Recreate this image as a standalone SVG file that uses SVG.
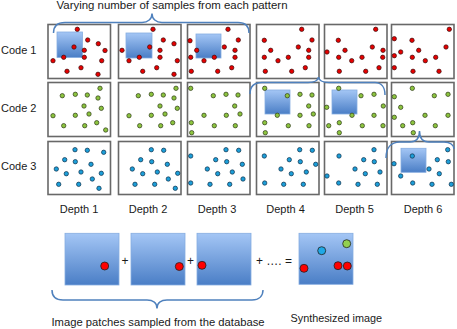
<svg xmlns="http://www.w3.org/2000/svg" width="457" height="329" viewBox="0 0 457 329">
<defs>
<linearGradient id="bg" x1="0" y1="0" x2="0" y2="1">
<stop offset="0" stop-color="#a4c6f5"/>
<stop offset="1" stop-color="#4a7ec6"/>
</linearGradient>
<style>
text{font-family:"Liberation Sans",Arial,sans-serif;fill:#1a1a1a}
.lbl{font-size:11px}
.cell{fill:#fff;stroke:#686868;stroke-width:1.6}
.sq{fill:url(#bg);stroke:#86ade0;stroke-width:0.8}
.r{fill:#e60000;stroke:#3a1010;stroke-width:0.7}
.g{fill:#8cc43f;stroke:#2f3a1a;stroke-width:0.7}
.b{fill:#1c9ed8;stroke:#10304a;stroke-width:0.7}
.R{fill:#ff0000;stroke:#222;stroke-width:0.8}
.G{fill:#92d050;stroke:#222;stroke-width:0.8}
.B{fill:#1fa8e6;stroke:#222;stroke-width:0.8}
.brace{fill:none;stroke:#4f81bd;stroke-width:1.5}
.op{font-size:12px}
</style>
</defs>

<text class="lbl" x="56.5" y="9" textLength="231" lengthAdjust="spacingAndGlyphs">Varying number of samples from each pattern</text>
<text class="lbl" x="1" y="54">Code 1</text>
<text class="lbl" x="1" y="111.5">Code 2</text>
<text class="lbl" x="1" y="170">Code 3</text>

<g id="r1c1">
<rect class="cell" x="48" y="24.5" width="62.5" height="54"/>
<rect class="sq" x="57" y="32" width="25.5" height="25.5"/>
<g class="r"><circle cx="77.3" cy="29.3" r="2.2"/><circle cx="87.7" cy="40" r="2.2"/><circle cx="98.3" cy="43.7" r="2.2"/><circle cx="105" cy="50.5" r="2.2"/><circle cx="84.3" cy="50.3" r="2.2"/><circle cx="74" cy="47" r="2.2"/><circle cx="84.3" cy="57.3" r="2.2"/><circle cx="63.7" cy="57.3" r="2.2"/><circle cx="53" cy="60.7" r="2.2"/><circle cx="101.7" cy="60.7" r="2.2"/><circle cx="81" cy="67.7" r="2.2"/><circle cx="67" cy="71.3" r="2.2"/><circle cx="98" cy="74.3" r="2.2"/></g>
</g>
<g id="r1c2">
<rect class="cell" x="118.5" y="24.5" width="62.5" height="54"/>
<rect class="sq" x="126" y="33" width="26" height="25"/>
<g class="r"><circle cx="153" cy="29.3" r="2.2"/><circle cx="163.3" cy="40" r="2.2"/><circle cx="174" cy="43.7" r="2.2"/><circle cx="122" cy="50.3" r="2.2"/><circle cx="160" cy="50.3" r="2.2"/><circle cx="149.7" cy="47" r="2.2"/><circle cx="160" cy="57.3" r="2.2"/><circle cx="139.3" cy="57.3" r="2.2"/><circle cx="129" cy="60.7" r="2.2"/><circle cx="177.3" cy="60.7" r="2.2"/><circle cx="156.7" cy="67.7" r="2.2"/><circle cx="142.7" cy="71.3" r="2.2"/><circle cx="174" cy="74.3" r="2.2"/></g>
</g>
<g id="r1c3">
<rect class="cell" x="187.5" y="24.5" width="62.5" height="54"/>
<rect class="sq" x="196" y="34" width="25" height="24"/>
<g class="r"><circle cx="228" cy="29.3" r="2.2"/><circle cx="238.3" cy="40" r="2.2"/><circle cx="190" cy="40.7" r="2.2"/><circle cx="224.3" cy="47" r="2.2"/><circle cx="196.7" cy="50.3" r="2.2"/><circle cx="235" cy="50.3" r="2.2"/><circle cx="190.7" cy="57.3" r="2.2"/><circle cx="214.3" cy="57.3" r="2.2"/><circle cx="235" cy="57.3" r="2.2"/><circle cx="204" cy="60.7" r="2.2"/><circle cx="231.7" cy="67.7" r="2.2"/><circle cx="217.7" cy="71.3" r="2.2"/><circle cx="191.3" cy="71.3" r="2.2"/></g>
</g>
<g id="r1c4">
<rect class="cell" x="256.5" y="24.5" width="62.5" height="54"/>
<g class="r"><circle cx="301.7" cy="29.3" r="2.2"/><circle cx="264.3" cy="40.3" r="2.2"/><circle cx="312" cy="40" r="2.2"/><circle cx="270.7" cy="50.3" r="2.2"/><circle cx="298.3" cy="47" r="2.2"/><circle cx="308.7" cy="50.3" r="2.2"/><circle cx="264.3" cy="57.3" r="2.2"/><circle cx="288.3" cy="57.3" r="2.2"/><circle cx="308.7" cy="57.3" r="2.2"/><circle cx="278" cy="60.7" r="2.2"/><circle cx="305.3" cy="67.7" r="2.2"/><circle cx="291.7" cy="71.3" r="2.2"/><circle cx="265.3" cy="71.3" r="2.2"/></g>
</g>
<g id="r1c5">
<rect class="cell" x="324.5" y="24.5" width="62.5" height="54"/>
<g class="r"><circle cx="375.7" cy="29.3" r="2.2"/><circle cx="338.3" cy="40.3" r="2.2"/><circle cx="327" cy="52" r="2.2"/><circle cx="345" cy="50.3" r="2.2"/><circle cx="372.3" cy="47" r="2.2"/><circle cx="383" cy="50.3" r="2.2"/><circle cx="338.7" cy="57.3" r="2.2"/><circle cx="362" cy="57.3" r="2.2"/><circle cx="382.7" cy="57.3" r="2.2"/><circle cx="351.7" cy="60.7" r="2.2"/><circle cx="379" cy="67.7" r="2.2"/><circle cx="365.7" cy="71.3" r="2.2"/><circle cx="339.3" cy="71.3" r="2.2"/></g>
</g>
<g id="r1c6">
<rect class="cell" x="391.5" y="24.5" width="62.5" height="54"/>
<g class="r"><circle cx="449.3" cy="29.3" r="2.2"/><circle cx="394.3" cy="38.7" r="2.2"/><circle cx="412" cy="40.3" r="2.2"/><circle cx="400.7" cy="52" r="2.2"/><circle cx="418.7" cy="50.3" r="2.2"/><circle cx="446" cy="47" r="2.2"/><circle cx="394.3" cy="55.7" r="2.2"/><circle cx="412.3" cy="57.3" r="2.2"/><circle cx="425.3" cy="60.7" r="2.2"/><circle cx="435.7" cy="57.3" r="2.2"/><circle cx="394.3" cy="67.7" r="2.2"/><circle cx="413" cy="71.3" r="2.2"/><circle cx="439" cy="71.3" r="2.2"/></g>
</g>

<g id="r2c1">
<rect class="cell" x="48" y="82.5" width="62.5" height="54"/>
<g class="g"><circle cx="100" cy="88.3" r="2.2"/><circle cx="62.3" cy="95.7" r="2.2"/><circle cx="75.3" cy="94.3" r="2.2"/><circle cx="87.3" cy="95" r="2.2"/><circle cx="98" cy="98" r="2.2"/><circle cx="84" cy="106" r="2.2"/><circle cx="101.3" cy="108.3" r="2.2"/><circle cx="53" cy="115.7" r="2.2"/><circle cx="75.3" cy="115.3" r="2.2"/><circle cx="89" cy="114" r="2.2"/><circle cx="63.7" cy="125.7" r="2.2"/><circle cx="84.7" cy="125.7" r="2.2"/><circle cx="96.7" cy="122.7" r="2.2"/><circle cx="105.7" cy="130" r="2.2"/></g>
</g>
<g id="r2c2">
<rect class="cell" x="118.5" y="82.5" width="62.5" height="54"/>
<g class="g"><circle cx="176" cy="88.3" r="2.2"/><circle cx="138.3" cy="95.7" r="2.2"/><circle cx="151.3" cy="94.3" r="2.2"/><circle cx="163.3" cy="95" r="2.2"/><circle cx="174" cy="98" r="2.2"/><circle cx="160" cy="106" r="2.2"/><circle cx="177.3" cy="108.3" r="2.2"/><circle cx="129" cy="115.7" r="2.2"/><circle cx="151.3" cy="115.3" r="2.2"/><circle cx="165" cy="114" r="2.2"/><circle cx="139.7" cy="125.7" r="2.2"/><circle cx="160.7" cy="125.7" r="2.2"/><circle cx="172.7" cy="122.7" r="2.2"/></g>
</g>
<g id="r2c3">
<rect class="cell" x="187.5" y="82.5" width="62.5" height="54"/>
<g class="g"><circle cx="190.7" cy="88.3" r="2.2"/><circle cx="213.3" cy="95.7" r="2.2"/><circle cx="226" cy="94.3" r="2.2"/><circle cx="238" cy="95" r="2.2"/><circle cx="234.7" cy="106" r="2.2"/><circle cx="240" cy="114" r="2.2"/><circle cx="204" cy="115.3" r="2.2"/><circle cx="226.3" cy="115.3" r="2.2"/><circle cx="191.3" cy="122.7" r="2.2"/><circle cx="214.3" cy="125.7" r="2.2"/><circle cx="235.3" cy="125.7" r="2.2"/><circle cx="191.7" cy="132.7" r="2.2"/></g>
</g>
<g id="r2c4">
<rect class="cell" x="256.5" y="82.5" width="62.5" height="54"/>
<rect class="sq" x="265" y="90" width="25" height="24"/>
<g class="g"><circle cx="264.7" cy="88.3" r="2.2"/><circle cx="287.3" cy="95.7" r="2.2"/><circle cx="300" cy="94.3" r="2.2"/><circle cx="312" cy="95" r="2.2"/><circle cx="308.7" cy="106" r="2.2"/><circle cx="313.3" cy="114" r="2.2"/><circle cx="277.3" cy="115.3" r="2.2"/><circle cx="300" cy="115.3" r="2.2"/><circle cx="264.7" cy="122.7" r="2.2"/><circle cx="288.3" cy="125.7" r="2.2"/><circle cx="309" cy="125.7" r="2.2"/><circle cx="265.3" cy="132.7" r="2.2"/></g>
</g>
<g id="r2c5">
<rect class="cell" x="324.5" y="82.5" width="62.5" height="54"/>
<rect class="sq" x="332" y="90" width="25" height="24"/>
<g class="g"><circle cx="338.7" cy="88.3" r="2.2"/><circle cx="361" cy="95.7" r="2.2"/><circle cx="374" cy="94.3" r="2.2"/><circle cx="383.3" cy="106" r="2.2"/><circle cx="326.7" cy="107.3" r="2.2"/><circle cx="352" cy="115.3" r="2.2"/><circle cx="374" cy="115.3" r="2.2"/><circle cx="328.7" cy="125.7" r="2.2"/><circle cx="339.3" cy="122.7" r="2.2"/><circle cx="339.3" cy="132.7" r="2.2"/><circle cx="362.3" cy="125.7" r="2.2"/><circle cx="383" cy="125.7" r="2.2"/></g>
</g>
<g id="r2c6">
<rect class="cell" x="391.5" y="82.5" width="62.5" height="54"/>
<g class="g"><circle cx="412.3" cy="88.3" r="2.2"/><circle cx="434.3" cy="95.7" r="2.2"/><circle cx="448" cy="94.3" r="2.2"/><circle cx="394.3" cy="96.7" r="2.2"/><circle cx="400.7" cy="107.3" r="2.2"/><circle cx="425" cy="115.3" r="2.2"/><circle cx="448" cy="115.3" r="2.2"/><circle cx="394.3" cy="117.3" r="2.2"/><circle cx="402.7" cy="125.7" r="2.2"/><circle cx="412.7" cy="122.7" r="2.2"/><circle cx="435.3" cy="125.7" r="2.2"/><circle cx="413.3" cy="132.7" r="2.2"/></g>
</g>

<g id="r3c1">
<rect class="cell" x="48" y="141.5" width="62.5" height="53"/>
<g class="b"><circle cx="75" cy="149.7" r="2.2"/><circle cx="87.3" cy="150.3" r="2.2"/><circle cx="103.7" cy="152.3" r="2.2"/><circle cx="64.7" cy="159.7" r="2.2"/><circle cx="75.3" cy="161.7" r="2.2"/><circle cx="91" cy="164.3" r="2.2"/><circle cx="56.3" cy="169" r="2.2"/><circle cx="66.3" cy="173.7" r="2.2"/><circle cx="81" cy="172" r="2.2"/><circle cx="101.3" cy="173.3" r="2.2"/><circle cx="92.3" cy="179" r="2.2"/><circle cx="58.7" cy="184.3" r="2.2"/><circle cx="78.7" cy="184.3" r="2.2"/><circle cx="99" cy="188.3" r="2.2"/></g>
</g>
<g id="r3c2">
<rect class="cell" x="118.5" y="141.5" width="62.5" height="53"/>
<g class="b"><circle cx="151.3" cy="149.7" r="2.2"/><circle cx="163.7" cy="150.3" r="2.2"/><circle cx="140.7" cy="159.7" r="2.2"/><circle cx="151.7" cy="161.7" r="2.2"/><circle cx="167.3" cy="164.3" r="2.2"/><circle cx="132.3" cy="169" r="2.2"/><circle cx="142.7" cy="173.7" r="2.2"/><circle cx="157.3" cy="172" r="2.2"/><circle cx="177.7" cy="173.3" r="2.2"/><circle cx="168.3" cy="179" r="2.2"/><circle cx="135" cy="184.3" r="2.2"/><circle cx="154.7" cy="184.3" r="2.2"/><circle cx="175.3" cy="188.3" r="2.2"/></g>
</g>
<g id="r3c3">
<rect class="cell" x="187.5" y="141.5" width="62.5" height="53"/>
<g class="b"><circle cx="226" cy="149.7" r="2.2"/><circle cx="238.7" cy="150.3" r="2.2"/><circle cx="190.7" cy="156" r="2.2"/><circle cx="215.7" cy="159.7" r="2.2"/><circle cx="226.7" cy="161.7" r="2.2"/><circle cx="242.3" cy="164.3" r="2.2"/><circle cx="207.3" cy="169" r="2.2"/><circle cx="217.7" cy="173.7" r="2.2"/><circle cx="232.3" cy="172" r="2.2"/><circle cx="243" cy="179" r="2.2"/><circle cx="190.7" cy="183" r="2.2"/><circle cx="210" cy="184.3" r="2.2"/><circle cx="229.7" cy="184.3" r="2.2"/></g>
</g>
<g id="r3c4">
<rect class="cell" x="256.5" y="141.5" width="62.5" height="53"/>
<g class="b"><circle cx="299.7" cy="149.7" r="2.2"/><circle cx="312.3" cy="150.3" r="2.2"/><circle cx="264.3" cy="156" r="2.2"/><circle cx="289.3" cy="159.7" r="2.2"/><circle cx="300.3" cy="161.7" r="2.2"/><circle cx="315.7" cy="164.3" r="2.2"/><circle cx="281" cy="169" r="2.2"/><circle cx="291.3" cy="173.7" r="2.2"/><circle cx="306.3" cy="172" r="2.2"/><circle cx="264.7" cy="183" r="2.2"/><circle cx="283.7" cy="184.3" r="2.2"/><circle cx="303.3" cy="184.3" r="2.2"/></g>
</g>
<g id="r3c5">
<rect class="cell" x="324.5" y="141.5" width="62.5" height="53"/>
<g class="b"><circle cx="374" cy="149.7" r="2.2"/><circle cx="339" cy="156" r="2.2"/><circle cx="363.7" cy="159.7" r="2.2"/><circle cx="374.3" cy="161.7" r="2.2"/><circle cx="355" cy="169" r="2.2"/><circle cx="365.3" cy="173.7" r="2.2"/><circle cx="380" cy="172" r="2.2"/><circle cx="327" cy="176" r="2.2"/><circle cx="338.7" cy="183" r="2.2"/><circle cx="358" cy="184.3" r="2.2"/><circle cx="377.3" cy="184.3" r="2.2"/></g>
</g>
<g id="r3c6">
<rect class="cell" x="391.5" y="141.5" width="62.5" height="53"/>
<rect class="sq" x="401" y="148.3" width="25" height="24"/>
<g class="b"><circle cx="447.7" cy="149.7" r="2.2"/><circle cx="412.3" cy="156" r="2.2"/><circle cx="394" cy="163.7" r="2.2"/><circle cx="437.3" cy="159.7" r="2.2"/><circle cx="448.3" cy="161.7" r="2.2"/><circle cx="429" cy="169" r="2.2"/><circle cx="400.7" cy="176" r="2.2"/><circle cx="439.3" cy="173.7" r="2.2"/><circle cx="412.7" cy="183" r="2.2"/><circle cx="432" cy="184.3" r="2.2"/><circle cx="451.3" cy="184.3" r="2.2"/></g>
</g>

<g id="depth-labels" class="lbl">
<text class="lbl" x="79" y="213" text-anchor="middle">Depth 1</text>
<text class="lbl" x="148" y="213" text-anchor="middle">Depth 2</text>
<text class="lbl" x="217" y="213" text-anchor="middle">Depth 3</text>
<text class="lbl" x="285.5" y="213" text-anchor="middle">Depth 4</text>
<text class="lbl" x="354.5" y="213" text-anchor="middle">Depth 5</text>
<text class="lbl" x="423" y="213" text-anchor="middle">Depth 6</text>
</g>

<g id="connectors">
<path class="brace" d="M53.5,33 C53.5,26 57,22.5 65,22.5 L142,22.5 C148,22.5 152,19 152,13.5 C152,19 156,22.5 162,22.5 L238,22.5 C245,22.5 249,26 249,33"/>
<path class="brace" d="M250,94 C250,87 254,82.5 262,82.5 L308,82.5 C314,82.5 318,80.5 318.5,77 C319,80.5 323,82.5 329,82.5 L375,82.5 C381,82.5 385,87 385,95"/>
<path class="brace" d="M386,158 C386,148 391,142 400,142 L410,142 C416,142 419.5,138 419.5,131 C419.5,138 423,142 429,142 L444,142 C450,142 454,145 454,149"/>
<path class="brace" d="M52,290 C52,296 55,300 63,300 L147,300 C153,300 157,303 157,308.5 C157,303 161,300 167,300 L252,300 C259,300 263,296 263,290"/>
</g>

<g id="patch1">
<rect class="sq" x="65" y="233.3" width="54" height="51.7"/>
<circle class="R" cx="104.7" cy="266" r="4"/>
</g>
<text class="op" x="125" y="265" text-anchor="middle">+</text>
<g id="patch2">
<rect class="sq" x="131" y="233.3" width="54" height="51.7"/>
<circle class="R" cx="179.3" cy="266.5" r="4"/>
</g>
<text class="op" x="190.5" y="265" text-anchor="middle">+</text>
<g id="patch3">
<rect class="sq" x="197" y="233.3" width="54" height="51.7"/>
<circle class="R" cx="202" cy="265.3" r="4"/>
</g>
<text class="op" x="256" y="265">+ …. =</text>
<g id="synth">
<rect class="sq" x="299" y="233.3" width="54" height="51"/>
<circle class="G" cx="346.7" cy="243.7" r="4"/>
<circle class="B" cx="321.7" cy="250.7" r="4"/>
<circle class="R" cx="304" cy="268.3" r="4"/>
<circle class="R" cx="338" cy="265.7" r="4"/>
<circle class="R" cx="347.3" cy="266" r="4"/>
</g>

<text class="lbl" x="51.5" y="326" textLength="213" lengthAdjust="spacingAndGlyphs">Image patches sampled from the database</text>
<text class="lbl" x="290.5" y="322" textLength="91.5" lengthAdjust="spacingAndGlyphs">Synthesized image</text>
</svg>
